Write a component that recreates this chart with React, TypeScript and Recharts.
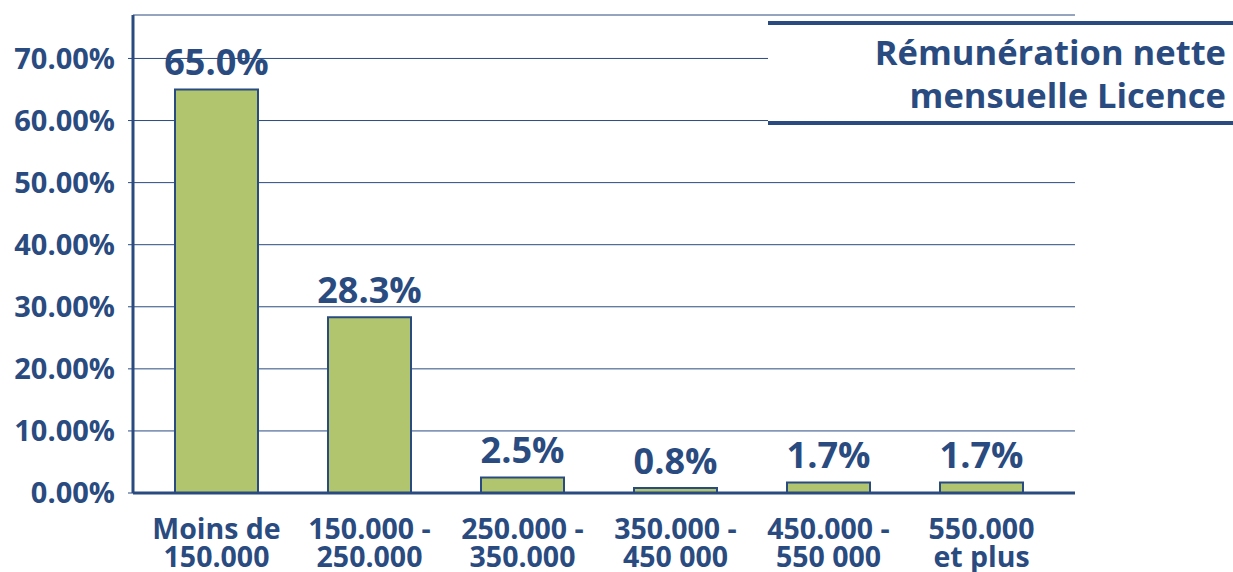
import { Bar, BarChart, CartesianGrid, LabelList, XAxis, YAxis } from 'recharts';

const categories = ['Moins de\n150.000', '150.000 -\n250.000', '250.000 -\n350.000', '350.000 -\n450 000', '450.000 -\n550 000', '550.000\net plus'];
const shares = [65.0, 28.3, 2.5, 0.8, 1.7, 1.7];
const yTicks = [0, 10, 20, 30, 40, 50, 60, 70];
const titleLines = ['Rémunération nette', 'mensuelle Licence'];

const BLUE = '#2a4b80';
const GREEN = '#b1c56f';
const FONT = '"Open Sans", "Noto Sans", sans-serif';

const data = categories.map((name, i) => ({ name, share: shares[i] }));

function CategoryTick({ x, y, payload }: any) {
    const lines = String(payload.value).split('\n');
    return (
        <text x={x} y={y} textAnchor="middle" fill={BLUE} fontFamily={FONT} fontWeight={700} fontSize={28.5}>
            {lines.map((l, i) => (
                <tspan key={i} x={x} dy={i === 0 ? 46 : 28}>
                    {l}
                </tspan>
            ))}
        </text>
    );
}

export default function App() {
    return (
        <div style={{ position: 'absolute', left: 0, top: 0, width: 1233, height: 572, background: '#fff', overflow: 'hidden' }}>
            <BarChart
                width={1233}
                height={572}
                data={data}
                margin={{ top: 15, right: 158, bottom: 0, left: 0 }}
                barSize={83}
            >
                <CartesianGrid vertical={false} stroke={BLUE} strokeWidth={1} />
                <XAxis
                    dataKey="name"
                    tick={<CategoryTick />}
                    tickLine={false}
                    tickSize={0}
                    tickMargin={0}
                    interval={0}
                    axisLine={{ stroke: BLUE, strokeWidth: 3 }}
                    padding={{ left: 7, right: 17 }}
                    height={79}
                />
                <YAxis
                    domain={[0, 77]}
                    ticks={yTicks}
                    width={133}
                    tickFormatter={(v: number) => `${v.toFixed(2)}%`}
                    tick={{ fill: BLUE, fontFamily: FONT, fontWeight: 700, fontSize: 29 }}
                    tickLine={{ stroke: BLUE, strokeWidth: 1 }}
                    tickSize={5}
                    tickMargin={13}
                    axisLine={{ stroke: BLUE, strokeWidth: 3 }}
                />
                <Bar dataKey="share" fill={GREEN} stroke={BLUE} strokeWidth={2} isAnimationActive={false}>
                    <LabelList
                        dataKey="share"
                        position="top"
                        offset={14}
                        formatter={(v: any) => `${Number(v).toFixed(1)}%`}
                        fill={BLUE}
                        fontFamily={FONT}
                        fontWeight={700}
                        fontSize={36}
                    />
                </Bar>
            </BarChart>
            <div
                style={{
                    position: 'absolute',
                    left: 768,
                    top: 21,
                    width: 465,
                    height: 96,
                    background: '#fff',
                    borderTop: `4px solid ${BLUE}`,
                    borderBottom: `4px solid ${BLUE}`,
                    boxSizing: 'content-box',
                    textAlign: 'right',
                    fontFamily: FONT,
                    fontWeight: 700,
                    fontSize: 34.5,
                    lineHeight: '43px',
                    color: BLUE,
                }}
            >
                <div style={{ paddingRight: 7, paddingTop: 5 }}>
                    {titleLines.map((l) => (
                        <div key={l}>{l}</div>
                    ))}
                </div>
            </div>
        </div>
    );
}
